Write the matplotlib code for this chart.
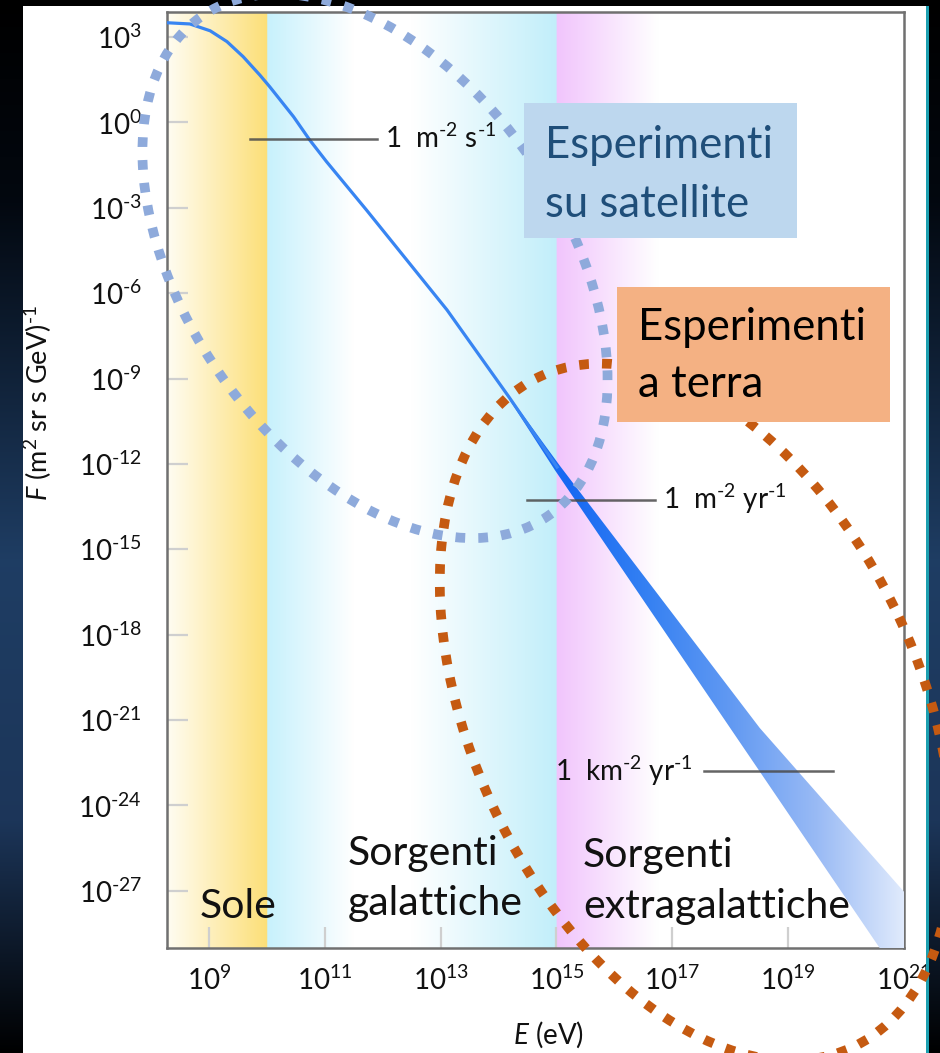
import numpy as np
import matplotlib
matplotlib.use("Agg")
import matplotlib.pyplot as plt
from matplotlib.patches import Ellipse, Rectangle
from matplotlib.ticker import FixedLocator, FuncFormatter, NullLocator

plt.rcParams['font.family'] = ['Lato', 'DejaVu Sans']
plt.rcParams['mathtext.fontset'] = 'custom'
plt.rcParams['mathtext.rm'] = 'Lato'
plt.rcParams['mathtext.it'] = 'Lato:italic'
plt.rcParams['mathtext.bf'] = 'Lato:bold'

# ---- cosmic-ray flux, log10 E [eV] and log10 F [(m^2 sr s GeV)^-1] ----
line_logE = [8.30, 8.67, 9.02, 9.31, 9.59, 9.88, 10.05, 10.46, 10.74, 11.03,
             11.72, 13.11, 14.18, 15.01]
line_logF = [3.50, 3.46, 3.22, 2.84, 2.31, 1.66, 1.25, 0.20, -0.62, -1.38,
             -3.08, -6.59, -9.65, -12.11]

# spread of the measurements above the knee: upper and lower edges
band_upper_logE = [14.18, 15.06, 18.51, 21.02, 21.96]
band_upper_logF = [-9.61, -12.07, -21.28, -27.08, -29.26]
band_lower_logE = [14.18, 14.97, 20.58, 21.96]
band_lower_logF = [-9.72, -12.21, -29.01, -33.12]

# source regions, boundaries in log10 E [eV]
region_edges = [10.0, 15.0]

# reference integral-flux levels
ref_labels = [r'1  m$^{\text{-}2}$ s$^{\text{-}1}$', r'1  m$^{\text{-}2}$ yr$^{\text{-}1}$',
              r'1  km$^{\text{-}2}$ yr$^{\text{-}1}$']
ref_logF = [-0.58, -13.27, -22.78]
ref_logE_start = [9.71, 14.49, 17.55]
ref_logE_end = [11.90, 16.70, 19.78]

y_tick_exp = list(range(3, -28, -3))
x_tick_exp = list(range(9, 22, 2))

LOGE_MIN, LOGE_MAX = 8.275, 21.0
LOGF_MIN, LOGF_MAX = -29.01, 3.88

W, H = 940, 1053
fig = plt.figure(figsize=(W / 100, H / 100), dpi=100)
fig.patch.set_facecolor('white')
rect = [167 / W, 1 - 948 / H, (904 - 167) / W, (948 - 12) / H]


def gradient(xs, stops, colors):
    colors = np.asarray(colors, dtype=float)
    return np.stack([np.interp(xs, stops, colors[:, i]) for i in range(3)], axis=-1)


# ---- coloured source regions behind the spectrum ----
bg = fig.add_axes(rect, zorder=0)
bg.set_axis_off()
cols = np.linspace(LOGE_MIN, LOGE_MAX, 1500)
e0, e1 = region_edges
eps = 1e-3
reg_stops = [LOGE_MIN, e0 - eps, e0, e0 + 0.30 * (e1 - e0), e0 + 0.50 * (e1 - e0),
             e1 - eps, e1, e1 + 1.75, LOGE_MAX]
reg_cols = [(1.0, 0.99, 0.95), (0.99, 0.875, 0.47), (0.78, 0.945, 0.99), (1, 1, 1),
            (1, 1, 1), (0.76, 0.935, 0.98), (0.945, 0.77, 0.99), (1, 1, 1), (1, 1, 1)]
bg.imshow(gradient(cols, reg_stops, reg_cols)[None], extent=(0, 1, 0, 1),
          aspect='auto', interpolation='bilinear')
bg.set_xlim(0, 1)
bg.set_ylim(0, 1)

# ---- main spectrum axes ----
ax = fig.add_axes(rect, zorder=1)
ax.patch.set_alpha(0)
ax.set_xscale('log')
ax.set_yscale('log')
ax.set_autoscale_on(False)

bx = np.concatenate([band_upper_logE, band_lower_logE[::-1]])
by = np.concatenate([band_upper_logF, band_lower_logF[::-1]])
poly, = ax.fill(10.0 ** bx, 10.0 ** by, facecolor='none', edgecolor='none')
band_stops = [LOGE_MIN, 14.0, 15.2, 16.5, 18.0, 19.5, 21.0]
band_cols = [(0.22, 0.52, 0.95), (0.15, 0.46, 0.96), (0.09, 0.41, 0.95), (0.20, 0.50, 0.95),
             (0.38, 0.60, 0.95), (0.60, 0.73, 0.96), (0.88, 0.92, 0.99)]
im = ax.imshow(gradient(cols, band_stops, band_cols)[None], extent=(0, 1, 0, 1),
               transform=ax.transAxes, aspect='auto', interpolation='bilinear', zorder=3)
im.set_clip_path(poly)

ax.plot(10.0 ** np.array(line_logE), 10.0 ** np.array(line_logF),
        color=(0.22, 0.52, 0.95), lw=2.3, zorder=3)

# reference levels
for i, lab in enumerate(ref_labels):
    xs = 10.0 ** np.array([ref_logE_start[i], ref_logE_end[i]])
    ys = 10.0 ** np.array([ref_logF[i]] * 2)
    ax.plot(xs, ys, color='#4a4a4a', lw=1.8, alpha=0.85, zorder=4)
    if i < 2:
        ax.annotate(lab, xy=(xs[1], ys[1]), xytext=(8, -9), textcoords='offset pixels',
                    ha='left', va='baseline', fontsize=20, color='#111111')
    else:
        ax.annotate(lab, xy=(xs[0], ys[0]), xytext=(-12, -10), textcoords='offset pixels',
                    ha='right', va='baseline', fontsize=20, color='#111111')

# region names
txt_kw = dict(fontsize=29.5, color='#111111', ha='left', va='baseline', zorder=5)
ax.text(10 ** 8.845, 10 ** -27.96, 'Sole', **txt_kw)
ax.text(10 ** 11.40, 10 ** -26.09, 'Sorgenti', **txt_kw)
ax.text(10 ** 11.40, 10 ** -27.85, 'galattiche', **txt_kw)
ax.text(10 ** 15.456, 10 ** -26.16, 'Sorgenti', **txt_kw)
ax.text(10 ** 15.456, 10 ** -27.96, 'extragalattiche', **txt_kw)

ax.set_xlim(10 ** LOGE_MIN, 10 ** LOGE_MAX)
ax.set_ylim(10 ** LOGF_MIN, 10 ** LOGF_MAX)
ax.xaxis.set_major_locator(FixedLocator([10.0 ** e for e in x_tick_exp]))
ax.yaxis.set_major_locator(FixedLocator([10.0 ** e for e in y_tick_exp]))
ax.xaxis.set_minor_locator(NullLocator())
ax.yaxis.set_minor_locator(NullLocator())


def pow_label(v, pos):
    e = int(round(np.log10(v)))
    s = r'\text{-}%d' % -e if e < 0 else '%d' % e
    return r'$\mathregular{10^{%s}}$' % s


fmt = FuncFormatter(pow_label)
ax.xaxis.set_major_formatter(fmt)
ax.yaxis.set_major_formatter(fmt)
ax.tick_params(axis='both', which='major', direction='in', length=15, width=1.6,
               color='#cfcfcf', labelsize=20, labelcolor='#111111')
ax.tick_params(axis='y', pad=18)
ax.tick_params(axis='x', pad=13)
for s in ax.spines.values():
    s.set_color('#707070')
    s.set_linewidth(1.8)

ax.set_ylabel(r'$F$ (m$^2$ sr s GeV)$^{\text{-}1}$', fontsize=19.5, color='#111111')
ax.yaxis.set_label_coords(-0.153, 0.582)
ax.set_xlabel(r'$E$ (eV)', fontsize=20, color='#111111')
ax.xaxis.set_label_coords(0.518, -0.076)

# ---- slide overlay: frame strips, experiment regions, captions ----
ov = fig.add_axes([0, 0, 1, 1], zorder=5)
ov.set_xlim(0, W)
ov.set_ylim(H, 0)
ov.set_axis_off()

rows = np.arange(H)
strip = gradient(rows, [0, 200, 560, 820, H], [(0, 0, 0), (0.01, 0.03, 0.06),
                 (0.12, 0.24, 0.39), (0.11, 0.21, 0.35), (0, 0, 0)])[:, None, :]
ov.imshow(strip, extent=(0, 23, H, 0), aspect='auto', interpolation='bilinear')
ov.imshow(strip, extent=(926, W, H, 0), aspect='auto', interpolation='bilinear')
ov.add_patch(Rectangle((926, 6), 3, H, facecolor='#1c9fb0', edgecolor='none'))
ov.add_patch(Rectangle((0, 0), W, 6, facecolor='black', edgecolor='none'))

ov.add_patch(Ellipse((696, 712), 740, 448, angle=65, facecolor='none', edgecolor='#c55a11',
                     lw=7.0, linestyle=(0, (1.0, 1.35)), capstyle='butt'))
ov.add_patch(Ellipse((375, 266), 608, 378, angle=55.3, facecolor='none', edgecolor='#8eaadb',
                     lw=7.0, linestyle=(0, (1.0, 1.35)), capstyle='butt'))

box_font = 31.5
ov.add_patch(Rectangle((524, 103), 273, 135, facecolor='#bdd7ee', edgecolor='none'))
ov.text(545, 158, 'Esperimenti', fontsize=box_font, color='#1f4e79', va='baseline')
ov.text(545, 217, 'su satellite', fontsize=box_font, color='#1f4e79', va='baseline')
ov.add_patch(Rectangle((617, 287), 273, 135, facecolor='#f4b183', edgecolor='none'))
ov.text(638, 340, 'Esperimenti', fontsize=box_font, color='black', va='baseline')
ov.text(638, 397, 'a terra', fontsize=box_font, color='black', va='baseline')
ov.set_xlim(0, W)
ov.set_ylim(H, 0)

fig.savefig('out.png', dpi=100)
